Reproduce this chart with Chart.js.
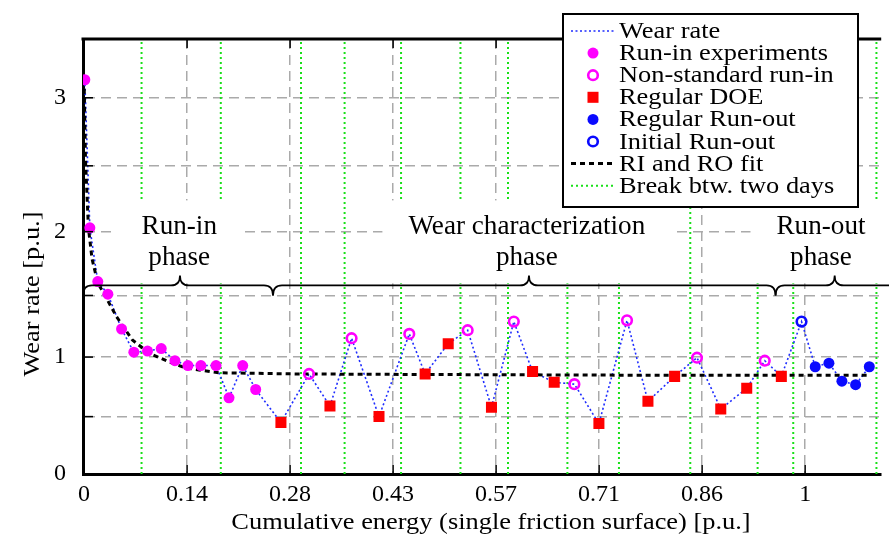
<!DOCTYPE html>
<html><head><meta charset="utf-8">
<script src="https://cdn.jsdelivr.net/npm/chart.js@4/dist/chart.umd.min.js"></script>
<style>html,body{margin:0;padding:0;background:#fff;overflow:hidden}canvas{display:block}</style>
</head><body>
<canvas id="c" width="889" height="537"></canvas>
<script>
// ---------------- data ----------------
const runInX = [0.001, 0.008, 0.019, 0.033, 0.052, 0.069, 0.088, 0.107, 0.126, 0.144, 0.162, 0.183, 0.201, 0.220, 0.238];
const runInY = [3.13, 2.03, 1.61, 1.51, 1.23, 1.04, 1.05, 1.07, 0.97, 0.93, 0.93, 0.93, 0.66, 0.93, 0.73];
const nonStdX = [0.312, 0.371, 0.451, 0.532, 0.596, 0.680, 0.753, 0.850, 0.944];
const nonStdY = [0.86, 1.155, 1.19, 1.22, 1.29, 0.775, 1.30, 0.995, 0.97];
const doeX = [0.273, 0.341, 0.409, 0.473, 0.505, 0.565, 0.622, 0.652, 0.714, 0.782, 0.819, 0.883, 0.919, 0.967];
const doeY = [0.45, 0.59, 0.50, 0.86, 1.11, 0.58, 0.88, 0.79, 0.44, 0.63, 0.84, 0.565, 0.74, 0.84];
const runOutX = [1.014, 1.033, 1.051, 1.070, 1.089];
const runOutY = [0.92, 0.95, 0.80, 0.77, 0.92];
const initRunOutX = [0.995];
const initRunOutY = [1.29];
const fitX = [0, 0.002, 0.006, 0.011, 0.019, 0.026, 0.045, 0.067, 0.091, 0.122, 0.141, 0.187, 0.297, 0.5, 0.75, 1.0, 1.09];
const fitY = [3.13, 2.54, 2.03, 1.79, 1.60, 1.53, 1.33, 1.14, 1.03, 0.95, 0.91, 0.87, 0.86, 0.855, 0.85, 0.85, 0.85];
const breakDays = [0.0797, 0.1896, 0.3008, 0.3613, 0.4396, 0.5220, 0.5879, 0.6703, 0.7418, 0.8407, 0.9341, 0.9835, 1.0989];
const xTicks = [0, 0.142857, 0.285714, 0.428571, 0.571429, 0.714286, 0.857143, 1];
const xTickLabels = ['0', '0.14', '0.28', '0.43', '0.57', '0.71', '0.86', '1'];
const yTicks = [0, 0.5, 1, 1.5, 2, 2.5, 3];
const yTickLabels = ['0', '', '1', '', '2', '', '3'];
const phaseNames = [['Run-in', 'phase'], ['Wear characterization', 'phase'], ['Run-out', 'phase']];
const phaseStart = [-0.0015, 0.262, 0.959];
const phaseEnd = [0.262, 0.959, 1.13];
const phasePeak = [0.133, 0.617, 1.041];
const phaseLabelX = [0.132, 0.614, 1.022];
const braceLevel = 1.58;
const X_MIN = -0.0015, X_MAX = 1.1055, Y_MIN = 0, Y_MAX = 3.42;

const pts = (xs, ys) => xs.map((x, i) => ({x: x, y: ys[i]}));
const wearAll = [].concat(pts(runInX, runInY), pts(nonStdX, nonStdY), pts(doeX, doeY),
  pts(runOutX, runOutY), pts(initRunOutX, initRunOutY)).sort((a, b) => a.x - b.x);
const breakData = [];
breakDays.forEach(x => { breakData.push({x: x, y: Y_MIN}, {x: x, y: Y_MAX}, {x: x, y: null}); });

// ---------------- slightly non-linear value axis (as in the reference) ----------------
const K = 0.0377;
const gw = v => v + K * v * v;
class WarpScale extends Chart.LinearScale {
  getPixelForValue(value) {
    const lo = gw(this.min), hi = gw(this.max);
    return this.getPixelForDecimal((gw(value) - lo) / (hi - lo));
  }
  getValueForPixel(pixel) {
    const lo = gw(this.min), hi = gw(this.max);
    const G = lo + this.getDecimalForPixel(pixel) * (hi - lo);
    return (-1 + Math.sqrt(1 + 4 * K * G)) / (2 * K);
  }
}
WarpScale.id = 'warp';
WarpScale.defaults = Chart.LinearScale.defaults;
Chart.register(WarpScale);

const SERIF = '"Liberation Serif", "Times New Roman", serif';

function sText(ctx, text, x, y, size, sx, align, rot) {
  ctx.save();
  ctx.font = size + 'px ' + SERIF;
  ctx.fillStyle = '#000';
  ctx.translate(x, y);
  if (rot) ctx.rotate(rot);
  ctx.scale(sx, 1);
  ctx.textAlign = align || 'left';
  ctx.textBaseline = 'alphabetic';
  ctx.fillText(text, 0, 0);
  ctx.restore();
}

const decor = {
  id: 'decor',
  afterDatasetsDraw(chart) {
    const {ctx, chartArea: ca, scales: {x, y}} = chart;
    ctx.save();
    // inner tick marks
    ctx.strokeStyle = '#000'; ctx.lineWidth = 1.5; ctx.setLineDash([]);
    x.ticks.forEach((t, i) => {
      const px = x.getPixelForTick(i);
      ctx.beginPath(); ctx.moveTo(px, ca.top); ctx.lineTo(px, ca.top + 9);
      ctx.moveTo(px, ca.bottom); ctx.lineTo(px, ca.bottom - 9); ctx.stroke();
    });
    y.ticks.forEach((t, i) => {
      const py = y.getPixelForTick(i);
      ctx.beginPath(); ctx.moveTo(ca.left, py); ctx.lineTo(ca.left + 10, py); ctx.stroke();
    });
    // top frame
    ctx.lineWidth = 3;
    ctx.beginPath(); ctx.moveTo(ca.left - 1.5, ca.top); ctx.lineTo(ca.right, ca.top); ctx.stroke();

    // phase annotations
    const by = y.getPixelForValue(braceLevel);
    ctx.font = '28px ' + SERIF;
    phaseNames.forEach((lines, k) => {
      const cx = x.getPixelForValue(phaseLabelX[k]);
      const w = Math.max(...lines.map(s => ctx.measureText(s).width)) * 0.97 + 52;
      ctx.fillStyle = '#fff';
      ctx.fillRect(cx - w / 2, by - 85, w, 83);
      sText(ctx, lines[0], cx, by - 51, 28, 0.97, 'center');
      sText(ctx, lines[1], cx, by - 20, 28, 0.97, 'center');
      ctx.font = '28px ' + SERIF;
    });
    // braces
    ctx.strokeStyle = '#000'; ctx.lineWidth = 1.7; ctx.setLineDash([]);
    const h = 10, r = 9;
    phaseNames.forEach((_, k) => {
      const xa = Math.max(x.getPixelForValue(phaseStart[k]), ca.left);
      const xb = x.getPixelForValue(phaseEnd[k]);
      const xp = x.getPixelForValue(phasePeak[k]);
      ctx.beginPath();
      ctx.moveTo(xa, by + h);
      ctx.quadraticCurveTo(xa, by, xa + r, by);
      ctx.lineTo(xp - r, by);
      ctx.quadraticCurveTo(xp, by, xp, by - h);
      ctx.quadraticCurveTo(xp, by, xp + r, by);
      ctx.lineTo(xb - r, by);
      ctx.quadraticCurveTo(xb, by, xb, by + h);
      ctx.stroke();
    });
    ctx.restore();
  },
  afterDraw(chart) {
    const ctx = chart.ctx;
    // axis titles
    sText(ctx, 'Cumulative energy (single friction surface) [p.u.]', 491, 529, 24, 1.1, 'center');
    sText(ctx, 'Wear rate [p.u.]', 39, 294, 24, 1.1, 'center', -Math.PI / 2);
    // legend
    const L = 563, T = 14, R = 858, B = 207;
    ctx.save();
    ctx.fillStyle = '#fff'; ctx.fillRect(L, T, R - L, B - T);
    ctx.setLineDash([]); ctx.lineWidth = 2; ctx.strokeStyle = '#000';
    ctx.strokeRect(L, T, R - L, B - T);
    chart.data.datasets.forEach((ds, i) => {
      const base = 38 + i * 22.1;
      const cy = base - 7;
      ctx.save();
      if (ds.showLine === false) {
        ctx.fillStyle = ds.backgroundColor;
        ctx.strokeStyle = ds.borderColor;
        ctx.lineWidth = ds.borderWidth || 0;
        Chart.helpers.drawPoint(ctx, {pointStyle: ds.pointStyle, radius: ds.pointRadius, rotation: 0, borderWidth: ds.borderWidth || 0}, 593, cy);
      } else {
        ctx.strokeStyle = ds.borderColor;
        ctx.lineWidth = ds.borderWidth;
        ctx.setLineDash(ds.borderDash || []);
        ctx.beginPath(); ctx.moveTo(571, cy); ctx.lineTo(615, cy); ctx.stroke();
      }
      ctx.restore();
      sText(ctx, ds.label, 619, base, 24, 1.1, 'left');
    });
    ctx.restore();
  }
};

new Chart(document.getElementById('c'), {
  type: 'line',
  data: {
    datasets: [
      {label: 'Wear rate', data: wearAll, borderColor: '#1f2dff', borderWidth: 1.6, borderDash: [2, 2.5],
       pointRadius: 0, fill: false, tension: 0, order: 6},
      {label: 'Run-in experiments', data: pts(runInX, runInY), showLine: false, pointStyle: 'circle',
       pointRadius: 5.5, backgroundColor: '#ff00ff', borderColor: '#ff00ff', borderWidth: 0, order: 1},
      {label: 'Non-standard run-in', data: pts(nonStdX, nonStdY), showLine: false, pointStyle: 'circle',
       pointRadius: 4.8, backgroundColor: 'rgba(0,0,0,0)', borderColor: '#ff00ff', borderWidth: 2.6, order: 1},
      {label: 'Regular DOE', data: pts(doeX, doeY), showLine: false, pointStyle: 'rect',
       pointRadius: 7.8, backgroundColor: '#ff0000', borderColor: '#ff0000', borderWidth: 0, order: 1},
      {label: 'Regular Run-out', data: pts(runOutX, runOutY), showLine: false, pointStyle: 'circle',
       pointRadius: 5.5, backgroundColor: '#0a0aff', borderColor: '#0a0aff', borderWidth: 0, order: 1},
      {label: 'Initial Run-out', data: pts(initRunOutX, initRunOutY), showLine: false, pointStyle: 'circle',
       pointRadius: 4.8, backgroundColor: 'rgba(0,0,0,0)', borderColor: '#0a0aff', borderWidth: 2.6, order: 1},
      {label: 'RI and RO fit', data: pts(fitX, fitY), borderColor: '#000', borderWidth: 3, borderDash: [5, 4],
       pointRadius: 0, fill: false, tension: 0, order: 3},
      {label: 'Break btw. two days', data: breakData, borderColor: '#19e019', borderWidth: 2, borderDash: [2, 3],
       pointRadius: 0, fill: false, spanGaps: false, order: 10}
    ]
  },
  options: {
    responsive: false, animation: false, devicePixelRatio: 1, events: [],
    layout: {padding: {top: 39, left: 0, right: 0, bottom: 0}},
    plugins: {legend: {display: false}, tooltip: {enabled: false}, title: {display: false}},
    scales: {
      x: {
        type: 'linear', min: X_MIN, max: X_MAX,
        afterBuildTicks: s => { s.ticks = xTicks.map(v => ({value: v})); },
        afterFit: s => { s.height = 63; },
        ticks: {autoSkip: false, maxRotation: 0, padding: 6, color: '#000',
                font: {family: SERIF, size: 24}, callback: (v, i) => xTickLabels[i]},
        grid: {color: '#aaaaaa', lineWidth: 1.5, drawTicks: false},
        border: {display: true, color: '#000', width: 3, dash: [10, 6]}
      },
      y: {
        type: 'warp', min: Y_MIN, max: Y_MAX,
        afterBuildTicks: s => { s.ticks = yTicks.map(v => ({value: v})); },
        afterFit: s => { s.width = 83; },
        ticks: {autoSkip: false, padding: 17, color: '#000',
                font: {family: SERIF, size: 24}, callback: (v, i) => yTickLabels[i]},
        grid: {color: '#aaaaaa', lineWidth: 1.5, drawTicks: false},
        border: {display: true, color: '#000', width: 3, dash: [10, 6]}
      }
    }
  },
  plugins: [decor]
});
</script>
</body></html>
